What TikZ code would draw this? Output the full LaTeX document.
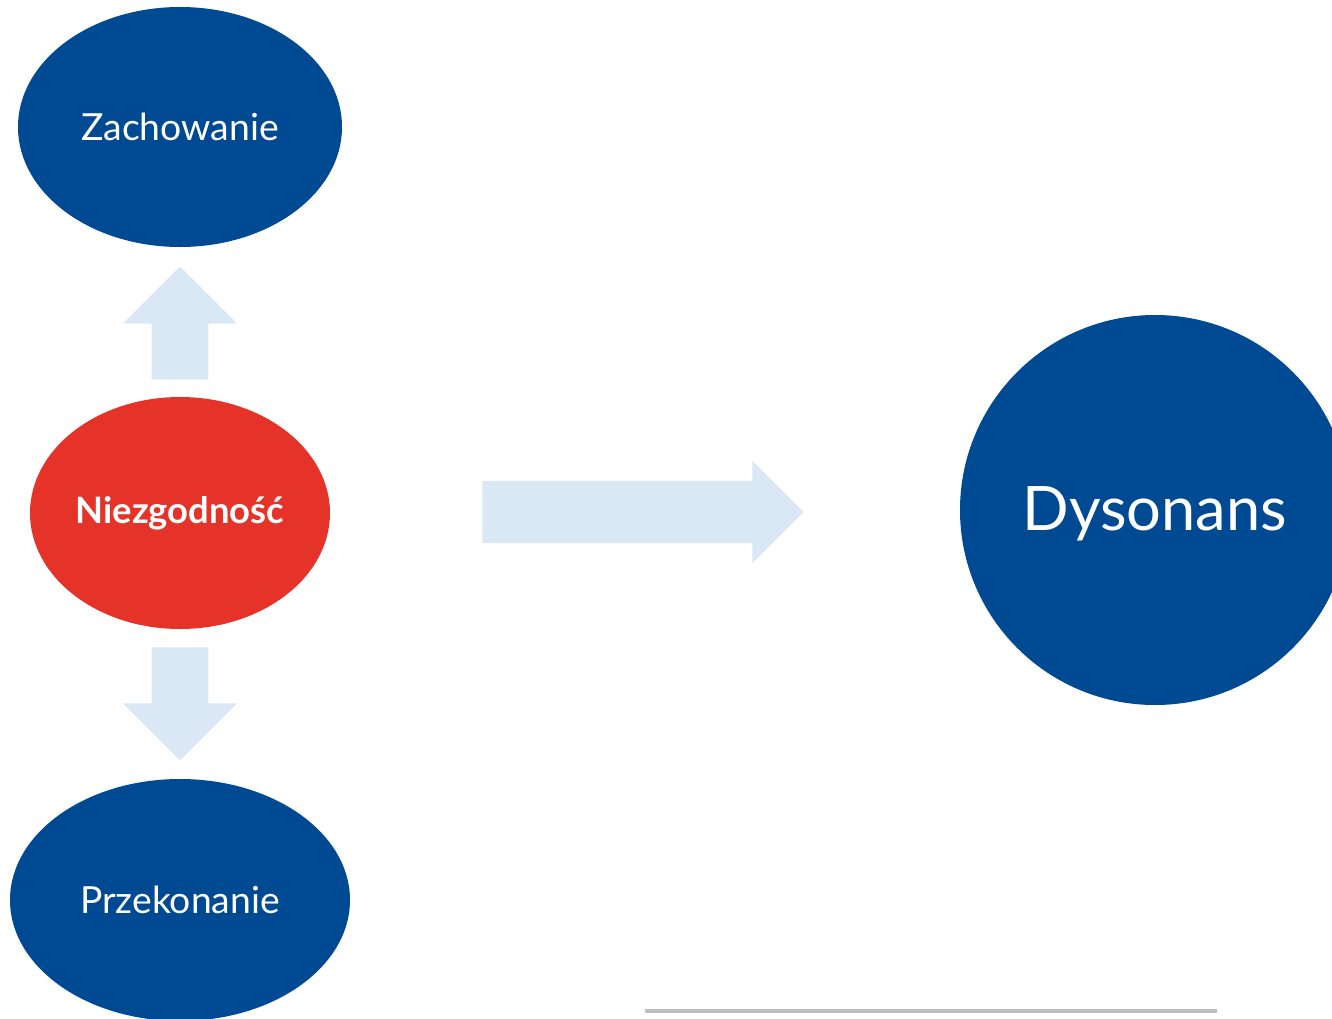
\documentclass[tikz,border=0pt]{standalone}
\usepackage{fontspec}
\setmainfont{Lato}
\usetikzlibrary{shapes.geometric,shapes.arrows}
\definecolor{dblue}{RGB}{0,74,148}
\definecolor{dred}{RGB}{229,51,41}
\definecolor{lblue}{RGB}{218,232,245}
\tikzset{ellbox/.style={
    ellipse,
    inner sep=0pt,
    text=white,
    font=\fontsize{28}{32}\selectfont
  },
  blueell/.style={ellbox,fill=dblue},
  redell/.style={ellbox,fill=dred,font=\fontsize{27.3}{32}\selectfont\bfseries},
  bigcirc/.style={circle,inner sep=0pt,fill=dblue,text=white,
    minimum size=292.5pt,font=\fontsize{46}{52}\selectfont},
  blockarrow/.style={single arrow,fill=lblue,draw=none,inner xsep=0pt,
    single arrow tip angle=90,single arrow head indent=0pt},
}
\begin{document}
\begin{tikzpicture}[x=0.75pt,y=-0.75pt]
  \clip (0,0) rectangle (1332,1018);
  \node [blueell,minimum width=243pt,minimum height=180pt] (zach) at (180,127) {Zachowanie};
  \node [redell,minimum width=225pt,minimum height=174pt] (niez) at (180,513) {Niezgodność};
  \node [blueell,minimum width=255pt,minimum height=181.5pt] (prze) at (180,900) {Przekonanie};
  \node [bigcirc,text height=34pt,text depth=3pt] (dys) at (1155,510) {Dysonans};
  % arrows
  \node [blockarrow,inner ysep=21pt,single arrow head extend=21.4pt,
    minimum height=84.75pt,rotate=90,anchor=tail] (up) at (180,380) {};
  \node [blockarrow,inner ysep=21pt,single arrow head extend=21.4pt,
    minimum height=84.75pt,rotate=-90,anchor=tail] (down) at (180,647) {};
  \node [blockarrow,inner ysep=22.9pt,single arrow head extend=15pt,
    minimum height=240.75pt,anchor=tail] (right) at (482,512) {};
  \draw [line width=2.4pt,color=black!25] (645,1011) -- (1217,1011);
\end{tikzpicture}
\end{document}
